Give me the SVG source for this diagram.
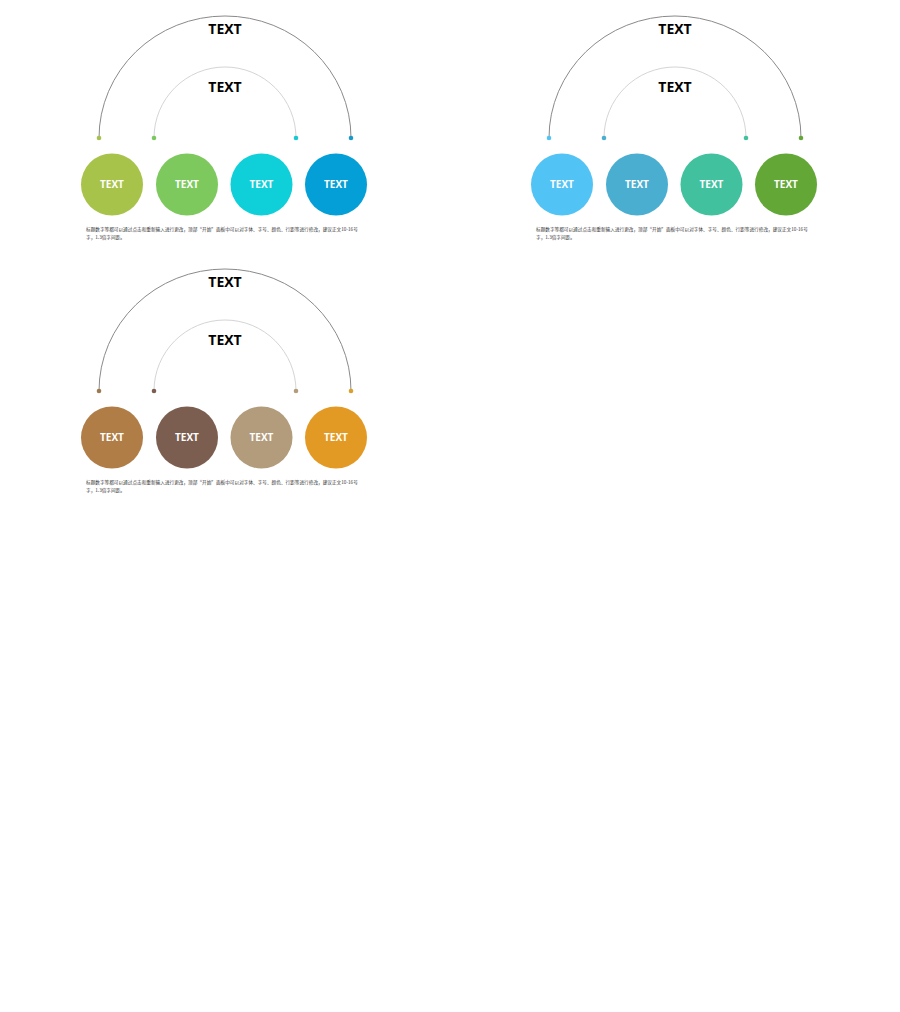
<svg xmlns="http://www.w3.org/2000/svg" width="900" height="1012" viewBox="0 0 900 1012">
<defs>
<style>
.outer{fill:none;stroke:#8a8a8a;stroke-width:1}
.inner{fill:none;stroke:#cfcfcf;stroke-width:0.9}
.head{font-family:"Open Sans","Noto Sans","Liberation Sans",sans-serif;font-weight:700;font-size:14px;fill:#000;text-anchor:middle}
.lbl{font-family:"Open Sans","Noto Sans","Liberation Sans",sans-serif;font-weight:700;font-size:10px;fill:#fff;text-anchor:middle}
.body{font-family:"Noto Sans CJK SC","Noto Sans",sans-serif;font-size:4.65px;fill:#333}
</style>
</defs>
<rect width="900" height="1012" fill="#fff"/>

<!-- Panel 1 -->
<g id="panel1">
<g id="p1-connectors">
<path class="outer" d="M99,138 A126,122 0 0 1 351,138"/>
<path class="inner" d="M154,138 A71,71 0 0 1 296,138"/>
<circle cx="99" cy="138" r="2.3" fill="#a5c24a"/>
<circle cx="154" cy="138" r="2.3" fill="#7cc860"/>
<circle cx="296" cy="138" r="2.3" fill="#1ac8d0"/>
<circle cx="351" cy="138" r="2.3" fill="#1a9ac8"/>
</g>
<text class="head" x="225" y="34">TEXT</text>
<text class="head" x="225" y="92">TEXT</text>
<g id="p1-n1"><circle cx="112" cy="184.5" r="31" fill="#a8c34a"/><text class="lbl" x="112" y="188">TEXT</text></g>
<g id="p1-n2"><circle cx="187" cy="184.5" r="31" fill="#7dc95e"/><text class="lbl" x="187" y="188">TEXT</text></g>
<g id="p1-n3"><circle cx="261.5" cy="184.5" r="31" fill="#0fd0d8"/><text class="lbl" x="261.5" y="188">TEXT</text></g>
<g id="p1-n4"><circle cx="336" cy="184.5" r="31" fill="#039fd6"/><text class="lbl" x="336" y="188">TEXT</text></g>
<text class="body" x="86" y="231">标题数字等都可以通过点击和重新输入进行更改，顶部“开始”面板中可以对字体、字号、颜色、行距等进行修改，建议正文10-16号</text>
<text class="body" x="86" y="238.5">字，1.3倍字间距。</text>
</g>

<!-- Panel 2 -->
<g id="panel2" transform="translate(450,0)">
<g id="p2-connectors">
<path class="outer" d="M99,138 A126,122 0 0 1 351,138"/>
<path class="inner" d="M154,138 A71,71 0 0 1 296,138"/>
<circle cx="99" cy="138" r="2.3" fill="#52c3f5"/>
<circle cx="154" cy="138" r="2.3" fill="#4aaed0"/>
<circle cx="296" cy="138" r="2.3" fill="#42c19f"/>
<circle cx="351" cy="138" r="2.3" fill="#63a737"/>
</g>
<text class="head" x="225" y="34">TEXT</text>
<text class="head" x="225" y="92">TEXT</text>
<g id="p2-n1"><circle cx="112" cy="184.5" r="31" fill="#52c3f5"/><text class="lbl" x="112" y="188">TEXT</text></g>
<g id="p2-n2"><circle cx="187" cy="184.5" r="31" fill="#4aaed0"/><text class="lbl" x="187" y="188">TEXT</text></g>
<g id="p2-n3"><circle cx="261.5" cy="184.5" r="31" fill="#42c19f"/><text class="lbl" x="261.5" y="188">TEXT</text></g>
<g id="p2-n4"><circle cx="336" cy="184.5" r="31" fill="#63a737"/><text class="lbl" x="336" y="188">TEXT</text></g>
<text class="body" x="86" y="231">标题数字等都可以通过点击和重新输入进行更改，顶部“开始”面板中可以对字体、字号、颜色、行距等进行修改，建议正文10-16号</text>
<text class="body" x="86" y="238.5">字，1.3倍字间距。</text>
</g>

<!-- Panel 3 -->
<g id="panel3" transform="translate(0,253)">
<g id="p3-connectors">
<path class="outer" d="M99,138 A126,122 0 0 1 351,138"/>
<path class="inner" d="M154,138 A71,71 0 0 1 296,138"/>
<circle cx="99" cy="138" r="2.3" fill="#9c7a4e"/>
<circle cx="154" cy="138" r="2.3" fill="#7c5e50"/>
<circle cx="296" cy="138" r="2.3" fill="#b29c7c"/>
<circle cx="351" cy="138" r="2.3" fill="#d9a12a"/>
</g>
<text class="head" x="225" y="34">TEXT</text>
<text class="head" x="225" y="92">TEXT</text>
<g id="p3-n1"><circle cx="112" cy="184.5" r="31" fill="#b07d46"/><text class="lbl" x="112" y="188">TEXT</text></g>
<g id="p3-n2"><circle cx="187" cy="184.5" r="31" fill="#7c5e50"/><text class="lbl" x="187" y="188">TEXT</text></g>
<g id="p3-n3"><circle cx="261.5" cy="184.5" r="31" fill="#b29c7c"/><text class="lbl" x="261.5" y="188">TEXT</text></g>
<g id="p3-n4"><circle cx="336" cy="184.5" r="31" fill="#e39a24"/><text class="lbl" x="336" y="188">TEXT</text></g>
<text class="body" x="86" y="231">标题数字等都可以通过点击和重新输入进行更改，顶部“开始”面板中可以对字体、字号、颜色、行距等进行修改，建议正文10-16号</text>
<text class="body" x="86" y="238.5">字，1.3倍字间距。</text>
</g>
</svg>
